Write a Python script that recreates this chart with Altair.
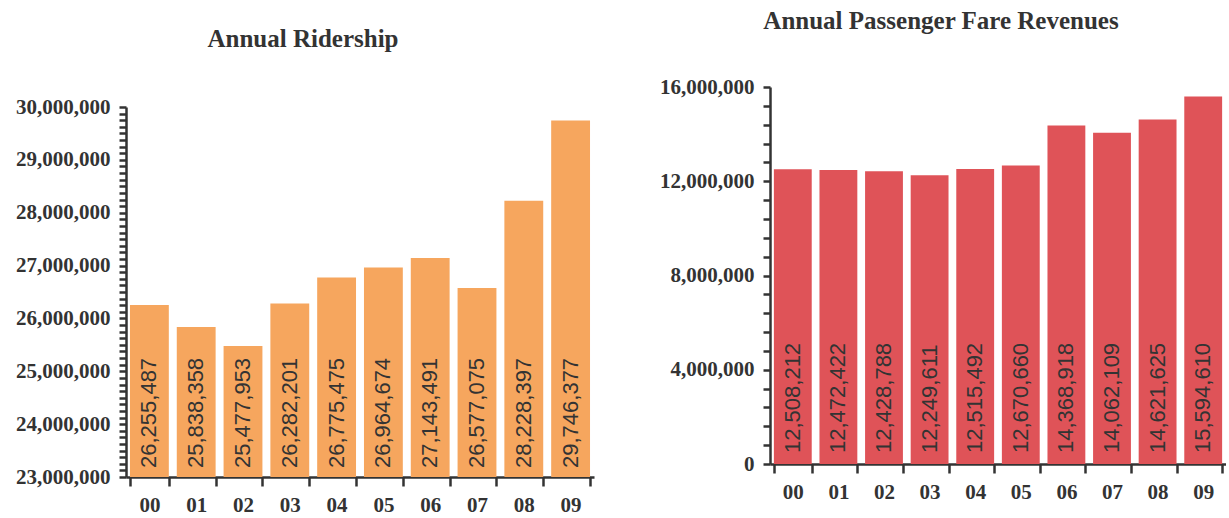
import altair as alt
import pandas as pd

# Fiscal years (two-digit labels)
years = ["00", "01", "02", "03", "04", "05", "06", "07", "08", "09"]

# Annual ridership (passengers)
ridership = [26255487, 25838358, 25477953, 26282201, 26775475,
             26964674, 27143491, 26577075, 28228397, 29746377]

# Annual passenger fare revenues (dollars)
fare_revenue = [12508212, 12472422, 12428788, 12249611, 12515492,
                12670660, 14368918, 14062109, 14621625, 15594610]

# Axis ranges and tick spacing
riders_domain = [23_000_000, 30_000_000]
riders_major = 1_000_000
riders_minor = 125_000
fare_domain = [0, 16_000_000]
fare_major = 4_000_000
fare_minor = 800_000

SERIF = "Liberation Serif"
SANS = "Liberation Sans"
INK = "#333333"


def panel(values, color, domain, major, minor, title, title_offset,
          width, height, top_gap, label_dx):
    df = pd.DataFrame({"year": years, "value": values})
    ticks = list(range(domain[0], domain[1] + 1, minor))

    x = alt.X(
        "year:N", sort=years, title=None,
        scale=alt.Scale(paddingInner=0.17, paddingOuter=0.085),
        axis=alt.Axis(labelAngle=0, tickBand="extent", tickSize=9,
                      labelPadding=8, labelFontSize=21),
    )

    def y_enc(field):
        # value axis: all ticks drawn, labels only on the major steps
        return alt.Y(
            f"{field}:Q", title=None,
            scale=alt.Scale(domain=domain, range=[height, top_gap],
                            nice=False, zero=False),
            axis=alt.Axis(values=ticks,
                          labelExpr=f"datum.value % {major} == 0 ? format(datum.value, ',') : ''",
                          labelOverlap=False, labelFlush=False, labelBound=False,
                          tickSize=7, labelPadding=9, labelFontSize=21,
                          minExtent=114, maxExtent=114),
        )

    base = alt.Chart(df).transform_calculate(base=str(domain[0]))

    bars = base.mark_bar(color=color).encode(
        x=x, y=y_enc("value"), y2="base:Q"
    )
    labels = base.mark_text(
        angle=270, align="left", baseline="middle", dx=label_dx,
        font=SANS, fontSize=22, color=INK,
    ).encode(
        x=x,
        y=y_enc("base"),
        text=alt.Text("value:Q", format=","),
    )

    return alt.layer(bars, labels).properties(
        width=width, height=height,
        title=alt.TitleParams(
            text=title, font=SERIF, fontSize=25,
            fontWeight="bold", color=INK, frame="bounds", anchor="middle",
            offset=title_offset,
        ),
    )


left = panel(ridership, "#F6A65E", riders_domain, riders_major, riders_minor,
             "Annual Ridership", 15, 468, 410, 40, 9)
right = panel(fare_revenue, "#DF5358", fare_domain, fare_major, fare_minor,
              "Annual Passenger Fare Revenues", 33, 456, 397, 20, 11)

chart = alt.hconcat(left, right, spacing=62).properties(
    padding={"left": 12, "top": 9, "right": 0, "bottom": 0},
    background="white",
).configure_view(stroke=None).configure_axis(
    grid=False,
    domainColor=INK, domainWidth=2.5,
    tickColor=INK, tickWidth=2.5,
    labelFont=SERIF, labelFontWeight="bold", labelColor=INK,
)

chart.save("out.html", embed_options={"renderer": "svg", "actions": False})
